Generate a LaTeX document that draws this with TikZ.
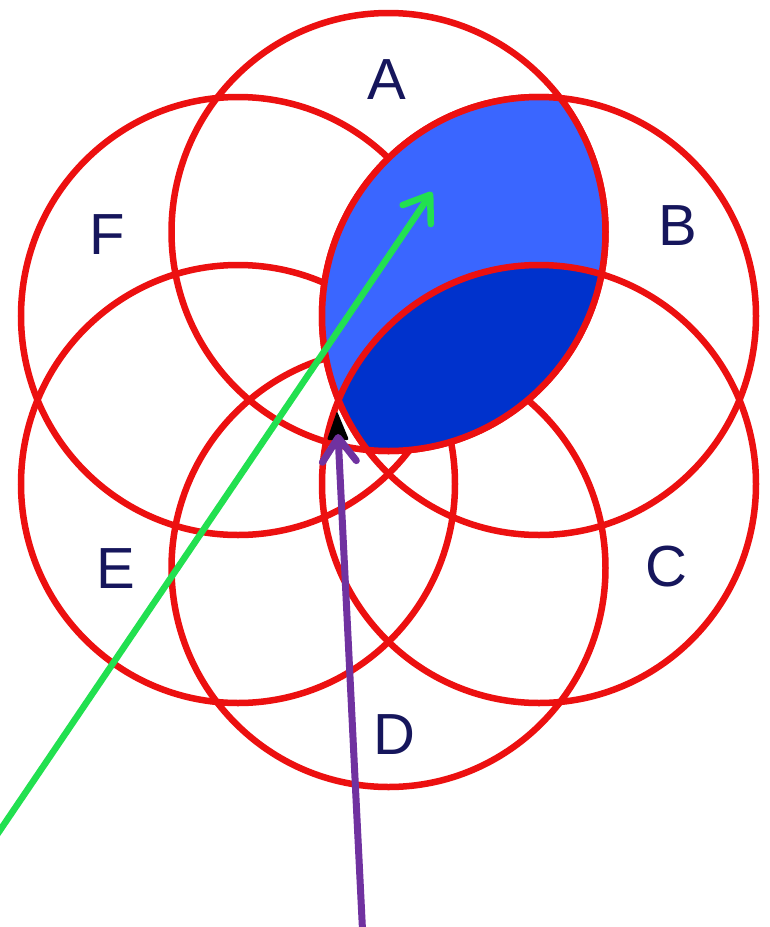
\documentclass[tikz,border=0pt]{standalone}
\usepackage{fontspec}
\setmainfont{Liberation Sans}
\usetikzlibrary{arrows.meta}
\definecolor{ringred}{RGB}{236,16,16}
\definecolor{lightblue}{RGB}{58,102,255}
\definecolor{darkblue}{RGB}{0,50,204}
\definecolor{labelnavy}{RGB}{22,22,92}
\definecolor{arrowgreen}{RGB}{34,224,80}
\definecolor{arrowpurple}{RGB}{112,50,160}
\begin{document}
\begin{tikzpicture}[x=1pt,y=-1pt,
  ring/.style={draw=ringred,line width=6.5pt},
  rad/.style={x radius=217pt,y radius=219pt},
  setlabel/.style={text=labelnavy,font=\fontsize{58}{60}\selectfont,inner sep=0pt},
  pointer/.style={line width=6.5pt,line cap=round,-{Straight Barb[length=24pt,width=34pt,line cap=round,line join=round]}}]
\useasboundingbox (0,0) rectangle (770,927);
\fill[white] (0,0) rectangle (770,927);
\coordinate (cA) at (388.5,232);
\coordinate (cB) at (539,316);
\coordinate (cC) at (539,484);
\coordinate (cD) at (388.5,568);
\coordinate (cE) at (238,484);
\coordinate (cF) at (238,316);
% rings
\foreach \c in {cA,cB,cC,cD,cE,cF}
  \draw[ring] (\c) ellipse [rad];
% shaded regions drawn over the rings
\begin{scope}
  \clip (cA) ellipse [rad];
  \fill[lightblue] (cB) ellipse [rad];
  \clip (cB) ellipse [rad];
  \fill[darkblue] (cC) ellipse [rad];
  \draw[ring] (cC) ellipse [rad];
\end{scope}
\begin{scope}
  \clip (cA) ellipse [rad];
  \draw[ring] (cB) ellipse [rad];
\end{scope}
\begin{scope}
  \clip (cB) ellipse [rad];
  \draw[ring] (cA) ellipse [rad];
\end{scope}
% labels
\node[setlabel] (lA) at (387,80) {A};
\node[setlabel] (lB) at (678,226) {B};
\node[setlabel] (lC) at (666,567) {C};
\node[setlabel] (lD) at (394,735) {D};
\node[setlabel] (lE) at (116,569) {E};
\node[setlabel] (lF) at (107,235) {F};
% black pointer tip
\fill[black,rounded corners=2pt] (337,411) -- (349,440) -- (327,440) -- cycle;
% arrows
\coordinate (g0) at (-12,848);
\coordinate (g1) at (432,192);
\coordinate (p0) at (363,940);
\coordinate (p1) at (338,434);
\draw[pointer,arrowgreen] (g0) -- (g1);
\draw[pointer,arrowpurple,line width=7pt] (p0) -- (p1);
\end{tikzpicture}
\end{document}
